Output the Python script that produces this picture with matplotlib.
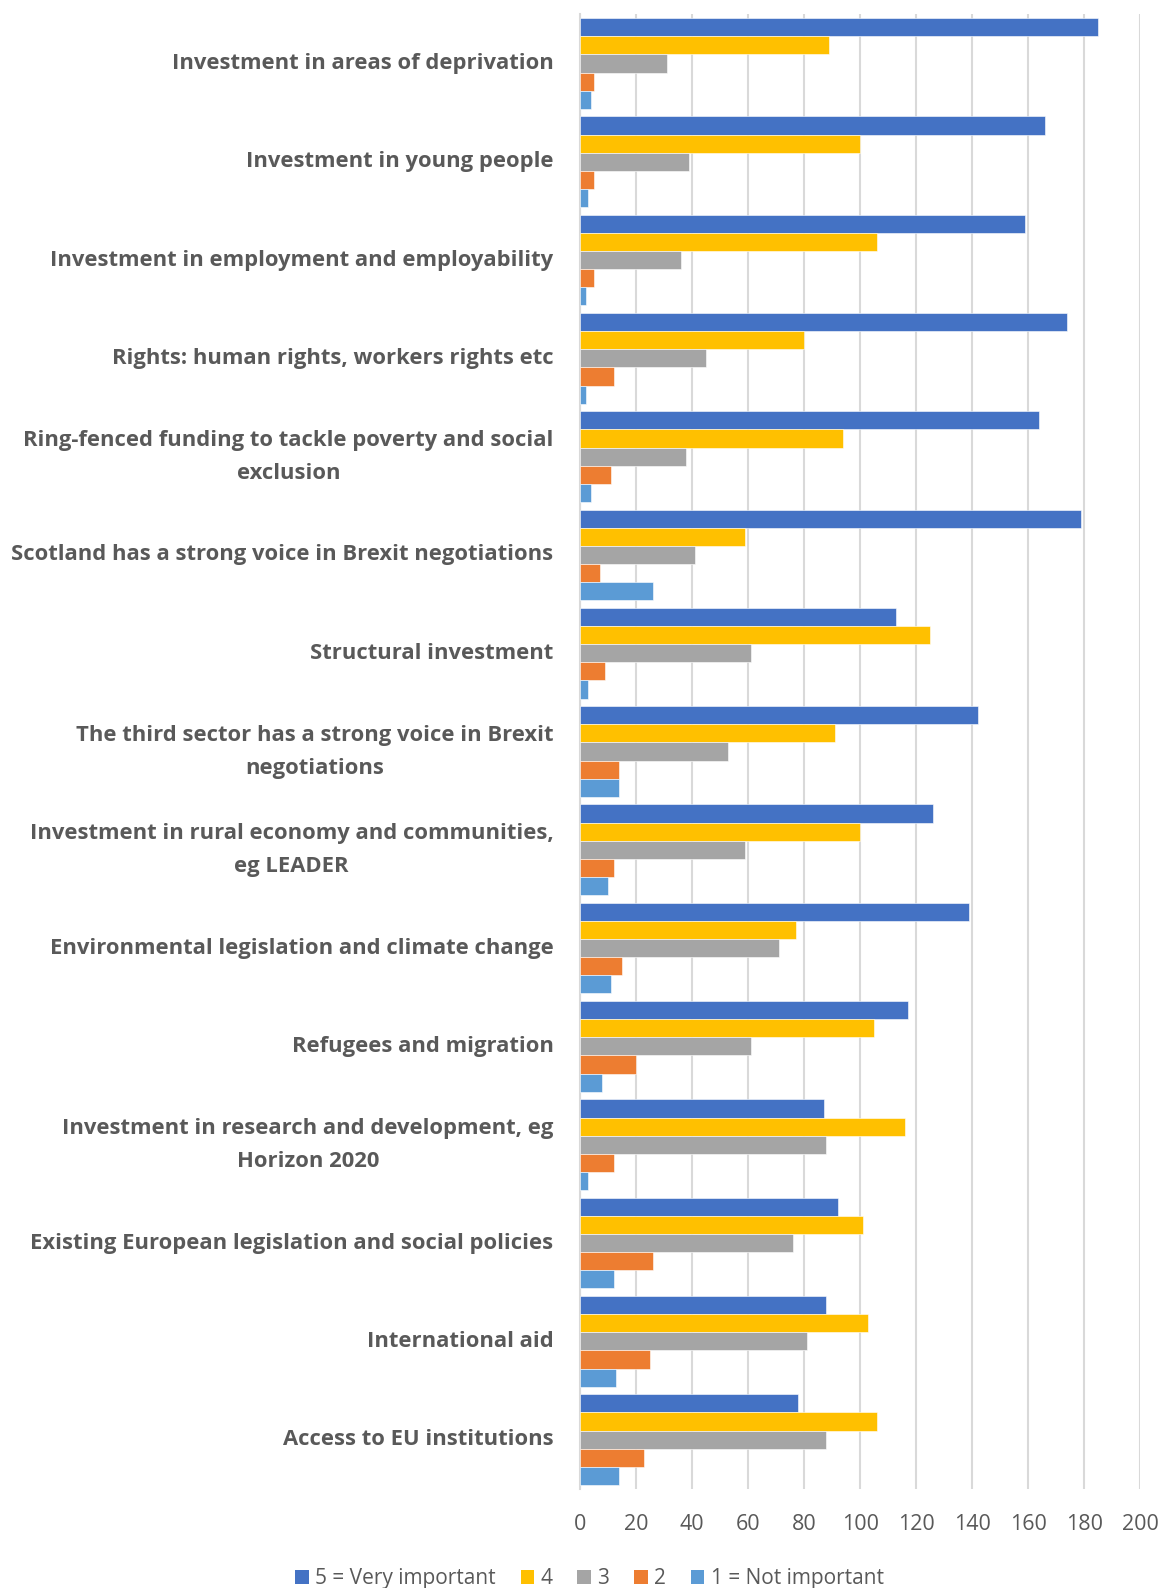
import matplotlib
matplotlib.use("Agg")
import matplotlib.pyplot as plt
import numpy as np
from matplotlib.patches import Patch

categories = [
    "Investment in areas of deprivation",
    "Investment in young people",
    "Investment in employment and employability",
    "Rights: human rights, workers rights etc",
    "Ring-fenced funding to tackle poverty and social\nexclusion",
    "Scotland has a strong voice in Brexit negotiations",
    "Structural investment",
    "The third sector has a strong voice in Brexit\nnegotiations",
    "Investment in rural economy and communities,\neg LEADER",
    "Environmental legislation and climate change",
    "Refugees and migration",
    "Investment in research and development, eg\nHorizon 2020",
    "Existing European legislation and social policies",
    "International aid",
    "Access to EU institutions",
]
series_names = ["5 = Very important", "4", "3", "2", "1 = Not important"]
v5 = [185, 166, 159, 174, 164, 179, 113, 142, 126, 139, 117, 87, 92, 88, 78]
v4 = [89, 100, 106, 80, 94, 59, 125, 91, 100, 77, 105, 116, 101, 103, 106]
v3 = [31, 39, 36, 45, 38, 41, 61, 53, 59, 71, 61, 88, 76, 81, 88]
v2 = [5, 5, 5, 12, 11, 7, 9, 14, 12, 15, 20, 12, 26, 25, 23]
v1 = [4, 3, 2, 2, 4, 26, 3, 14, 10, 11, 8, 3, 12, 13, 14]
series = [v5, v4, v3, v2, v1]
colors = ["#4472C4", "#FFC000", "#A5A5A5", "#ED7D31", "#5B9BD5"]
xticks = [0, 20, 40, 60, 80, 100, 120, 140, 160, 180, 200]

plt.rcParams['font.family'] = ['Open Sans', 'DejaVu Sans']
fig = plt.figure(figsize=(11.67, 15.88), dpi=100)
ax = fig.add_axes([0.497, 0.0625, 0.48, 0.9285])

n = len(categories)
bh = 0.1845
y0 = np.arange(n)
for i, (vals, col) in enumerate(zip(series, colors)):
    ypos = y0 - 2 * bh + i * bh
    ax.barh(ypos, vals, height=bh, color=col, edgecolor='white', linewidth=0.4, zorder=3)

ax.set_ylim(n - 0.5, -0.5)
ax.set_xlim(0, 200)
ax.set_xticks(xticks)
ax.set_xticklabels([str(t) for t in xticks], fontsize=15.5, color='#595959')
ax.set_yticks(y0)
ax.set_yticklabels(categories, fontsize=15.8, fontweight='bold', color='#595959',
                   multialignment='center', linespacing=1.75, va='center')
ax.tick_params(axis='both', length=0)
ax.tick_params(axis='y', pad=19)
ax.tick_params(axis='x', pad=18)
ax.grid(axis='x', color='#D9D9D9', linewidth=1.5, zorder=0)
for s in ['top', 'right', 'bottom']:
    ax.spines[s].set_visible(False)
ax.spines['left'].set_color('#D9D9D9')
ax.spines['left'].set_linewidth(1.5)

handles = [Patch(facecolor=c, edgecolor='none') for c in colors]
fig.legend(handles, series_names, loc='center', bbox_to_anchor=(0.505, 0.0058), ncol=5,
           frameon=False, fontsize=15, handlelength=0.65, handleheight=0.65,
           handletextpad=0.3, columnspacing=1.2, labelcolor='#595959')

fig.savefig("out.png", dpi=100)
